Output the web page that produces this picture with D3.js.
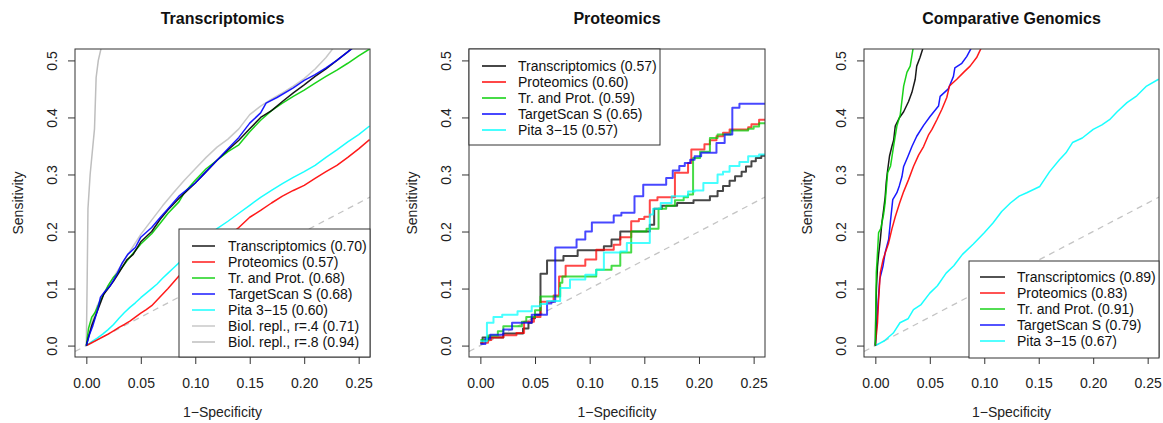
<!DOCTYPE html>
<html><head><meta charset="utf-8">
<script src="https://cdn.jsdelivr.net/npm/d3@7"></script>
<style>
body{margin:0;background:#fff;}
svg{font-family:"Liberation Sans",Arial,Helvetica,sans-serif;}
</style></head>
<body><svg id="c" width="1163" height="423"></svg>
<script>
// ---------- data ----------
const panelTitles = ["Transcriptomics","Proteomics","Comparative Genomics"];
const xTicks = [0,0.05,0.10,0.15,0.20,0.25];
const yTicks = [0,0.1,0.2,0.3,0.4,0.5];
const seriesNames = ["Transcriptomics","Proteomics","Tr. and Prot.","TargetScan S","Pita 3\u221215","Biol. repl., r=.4","Biol. repl., r=.8"];
const seriesColors = ["#000000","#ff0000","#00cd00","#0000ff","#00ffff","#c8c8c8","#bebebe"];
const auc1 = ["0.70","0.57","0.68","0.68","0.60","0.71","0.94"];
const auc2 = ["0.57","0.60","0.59","0.65","0.57"];
const auc3 = ["0.89","0.83","0.91","0.79","0.67"];

// Panel 1 (Transcriptomics)
const p1Black = [[0,0],[0.002,0.015],[0.005,0.035],[0.008,0.05],[0.012,0.07],[0.016,0.09],[0.02,0.1],[0.025,0.113],[0.03,0.128],[0.037,0.15],[0.043,0.16],[0.05,0.182],[0.06,0.2],[0.068,0.222],[0.075,0.238],[0.085,0.258],[0.1,0.285],[0.11,0.305],[0.12,0.325],[0.13,0.343],[0.14,0.36],[0.15,0.38],[0.16,0.4],[0.17,0.412],[0.18,0.428],[0.19,0.443],[0.2,0.457],[0.21,0.472],[0.22,0.485],[0.23,0.5],[0.24,0.515],[0.246,0.525]];
const p1Red = [[0,0],[0.005,0.005],[0.01,0.01],[0.015,0.015],[0.02,0.02],[0.025,0.026],[0.03,0.032],[0.035,0.037],[0.04,0.043],[0.045,0.05],[0.05,0.057],[0.055,0.063],[0.06,0.07],[0.065,0.08],[0.07,0.09],[0.075,0.1],[0.08,0.111],[0.085,0.122],[0.1,0.148],[0.12,0.177],[0.135,0.2],[0.14,0.207],[0.15,0.225],[0.16,0.237],[0.17,0.25],[0.18,0.262],[0.19,0.272],[0.2,0.281],[0.21,0.293],[0.22,0.305],[0.23,0.316],[0.24,0.33],[0.25,0.345],[0.26,0.361]];
const p1Green = [[0,0],[0.002,0.03],[0.005,0.05],[0.008,0.058],[0.012,0.075],[0.016,0.09],[0.02,0.105],[0.025,0.12],[0.03,0.13],[0.037,0.148],[0.043,0.162],[0.05,0.178],[0.06,0.196],[0.068,0.215],[0.075,0.232],[0.085,0.252],[0.09,0.268],[0.1,0.29],[0.11,0.31],[0.12,0.325],[0.13,0.34],[0.14,0.352],[0.15,0.375],[0.16,0.395],[0.17,0.412],[0.18,0.425],[0.19,0.437],[0.2,0.448],[0.21,0.46],[0.22,0.472],[0.23,0.483],[0.24,0.495],[0.25,0.508],[0.26,0.52]];
const p1Blue = [[0,0],[0.003,0.02],[0.006,0.035],[0.01,0.06],[0.013,0.085],[0.017,0.095],[0.022,0.105],[0.028,0.125],[0.033,0.145],[0.038,0.16],[0.045,0.172],[0.05,0.19],[0.06,0.207],[0.068,0.225],[0.075,0.24],[0.085,0.262],[0.1,0.285],[0.11,0.305],[0.12,0.325],[0.13,0.345],[0.14,0.365],[0.15,0.39],[0.16,0.408],[0.165,0.425],[0.175,0.435],[0.19,0.452],[0.2,0.465],[0.21,0.475],[0.22,0.487],[0.23,0.5],[0.24,0.515],[0.247,0.525]];
const p1Cyan = [[0,0],[0.005,0.007],[0.01,0.013],[0.015,0.02],[0.02,0.028],[0.025,0.037],[0.03,0.048],[0.035,0.058],[0.04,0.067],[0.045,0.075],[0.05,0.084],[0.055,0.092],[0.06,0.1],[0.065,0.108],[0.07,0.118],[0.075,0.127],[0.08,0.136],[0.085,0.145],[0.1,0.17],[0.12,0.205],[0.13,0.218],[0.14,0.232],[0.15,0.246],[0.16,0.26],[0.17,0.272],[0.18,0.284],[0.19,0.295],[0.2,0.305],[0.21,0.316],[0.22,0.33],[0.23,0.343],[0.24,0.357],[0.25,0.37],[0.26,0.385]];
const p1Rep4 = [[0,0],[0.005,0.04],[0.01,0.07],[0.02,0.105],[0.03,0.135],[0.04,0.165],[0.05,0.195],[0.06,0.22],[0.07,0.245],[0.08,0.268],[0.09,0.29],[0.1,0.31],[0.11,0.33],[0.12,0.348],[0.13,0.362],[0.14,0.38],[0.15,0.405],[0.16,0.42],[0.17,0.432],[0.18,0.443],[0.19,0.455],[0.2,0.468],[0.21,0.485],[0.22,0.505],[0.228,0.525]];
const p1Rep8 = [[0,0],[0.0008,0.12],[0.0015,0.24],[0.0035,0.3],[0.0065,0.36],[0.0075,0.38],[0.009,0.47],[0.011,0.5],[0.014,0.525]];

// Panel 2 (Proteomics) - step points: [x where step occurs, new sensitivity]
const p2Black = [[0,0.005],[0.002,0.014],[0.021,0.021],[0.039,0.03],[0.044,0.04],[0.047,0.048],[0.05,0.054],[0.055,0.126],[0.061,0.149],[0.076,0.157],[0.089,0.167],[0.113,0.174],[0.12,0.186],[0.128,0.2],[0.155,0.212],[0.159,0.24],[0.166,0.245],[0.18,0.25],[0.195,0.255],[0.21,0.262],[0.217,0.271],[0.222,0.28],[0.228,0.289],[0.233,0.297],[0.239,0.305],[0.243,0.314],[0.248,0.323],[0.252,0.329],[0.257,0.333],[0.262,0.333]];
const p2Red = [[0,0.005],[0.007,0.01],[0.01,0.014],[0.021,0.018],[0.033,0.022],[0.04,0.042],[0.049,0.05],[0.055,0.077],[0.067,0.088],[0.072,0.121],[0.078,0.14],[0.096,0.151],[0.106,0.168],[0.122,0.177],[0.128,0.19],[0.138,0.218],[0.145,0.222],[0.15,0.226],[0.155,0.255],[0.162,0.26],[0.178,0.303],[0.19,0.32],[0.193,0.344],[0.205,0.353],[0.21,0.36],[0.216,0.367],[0.222,0.373],[0.228,0.379],[0.245,0.383],[0.248,0.388],[0.255,0.396],[0.262,0.397]];
const p2Green = [[0,0.01],[0.007,0.0175],[0.016,0.025],[0.021,0.034],[0.038,0.042],[0.042,0.05],[0.05,0.062],[0.055,0.086],[0.073,0.11],[0.075,0.121],[0.106,0.133],[0.12,0.14],[0.128,0.163],[0.138,0.2],[0.152,0.205],[0.163,0.24],[0.17,0.245],[0.178,0.255],[0.186,0.26],[0.19,0.265],[0.1946,0.329],[0.201,0.34],[0.21,0.364],[0.217,0.37],[0.229,0.377],[0.245,0.38],[0.25,0.384],[0.255,0.39],[0.262,0.392]];
const p2Blue = [[0,0.003],[0.0046,0.012],[0.009,0.019],[0.021,0.028],[0.029,0.04],[0.047,0.054],[0.061,0.074],[0.065,0.077],[0.0685,0.172],[0.088,0.186],[0.096,0.2],[0.102,0.216],[0.122,0.228],[0.129,0.233],[0.141,0.262],[0.149,0.282],[0.17,0.294],[0.176,0.307],[0.182,0.315],[0.187,0.32],[0.192,0.326],[0.196,0.332],[0.202,0.338],[0.216,0.355],[0.2235,0.37],[0.2305,0.417],[0.237,0.424],[0.262,0.424]];
const p2Cyan = [[0,0.0075],[0.006,0.04],[0.012,0.05],[0.02,0.054],[0.034,0.06],[0.047,0.069],[0.055,0.073],[0.061,0.078],[0.073,0.101],[0.082,0.116],[0.096,0.124],[0.106,0.133],[0.113,0.163],[0.128,0.165],[0.134,0.18],[0.155,0.23],[0.158,0.24],[0.165,0.25],[0.175,0.262],[0.19,0.27],[0.196,0.272],[0.204,0.285],[0.217,0.3],[0.222,0.305],[0.228,0.315],[0.237,0.322],[0.245,0.332],[0.255,0.335],[0.262,0.34]];

// Panel 3 (Comparative Genomics)
const p3Black = [[0,0],[0.0005,0.06],[0.001,0.1],[0.002,0.139],[0.003,0.16],[0.0046,0.186],[0.006,0.215],[0.0076,0.238],[0.009,0.26],[0.01,0.286],[0.011,0.303],[0.013,0.332],[0.0153,0.35],[0.0168,0.36],[0.0183,0.385],[0.0223,0.4],[0.026,0.41],[0.0305,0.428],[0.0336,0.444],[0.0366,0.467],[0.038,0.49],[0.041,0.505],[0.0443,0.525]];
const p3Red = [[0,0],[0.002,0.04],[0.003,0.08],[0.0046,0.128],[0.007,0.15],[0.0092,0.163],[0.0122,0.18],[0.0153,0.205],[0.0183,0.226],[0.0223,0.25],[0.026,0.27],[0.0305,0.291],[0.035,0.314],[0.0397,0.334],[0.0443,0.349],[0.049,0.37],[0.052,0.379],[0.0565,0.396],[0.061,0.414],[0.0656,0.435],[0.068,0.455],[0.0748,0.467],[0.081,0.479],[0.087,0.49],[0.093,0.505],[0.098,0.525]];
const p3Green = [[0,0],[0.0005,0.08],[0.0009,0.128],[0.002,0.163],[0.003,0.198],[0.005,0.205],[0.0076,0.23],[0.009,0.25],[0.0113,0.303],[0.014,0.315],[0.0168,0.35],[0.0198,0.385],[0.0229,0.405],[0.026,0.455],[0.029,0.479],[0.032,0.49],[0.035,0.525]];
const p3Blue = [[0,0],[0.002,0.06],[0.004,0.116],[0.007,0.139],[0.009,0.163],[0.0122,0.186],[0.014,0.22],[0.016,0.256],[0.0198,0.268],[0.022,0.28],[0.0244,0.296],[0.026,0.314],[0.03,0.332],[0.0336,0.349],[0.038,0.367],[0.0443,0.386],[0.0504,0.402],[0.058,0.42],[0.0595,0.437],[0.067,0.45],[0.0717,0.472],[0.073,0.487],[0.0794,0.495],[0.084,0.507],[0.089,0.525]];
const p3Cyan = [[0,0],[0.008,0.008],[0.0165,0.022],[0.0226,0.04],[0.03,0.047],[0.035,0.063],[0.042,0.072],[0.05,0.092],[0.057,0.105],[0.065,0.127],[0.072,0.14],[0.08,0.16],[0.09,0.178],[0.1,0.198],[0.108,0.215],[0.116,0.235],[0.124,0.25],[0.132,0.262],[0.139,0.268],[0.151,0.279],[0.16,0.305],[0.169,0.326],[0.175,0.338],[0.181,0.356],[0.19,0.364],[0.2,0.379],[0.208,0.387],[0.215,0.396],[0.222,0.41],[0.231,0.426],[0.24,0.438],[0.249,0.455],[0.26,0.467]];

// ---------- layout ----------
const panels = [
  {left:75, right:370, series:[p1Black,p1Red,p1Green,p1Blue,p1Cyan,p1Rep4,p1Rep8], auc:auc1, step:false,
   leg:{x0:179,x1:370,y0:229,y1:357,ly:246,lx0:192,lx1:215,tx:228}, lw:1.5, op:0.9, draw:[5,6,4,1,2,0,3]},
  {left:469, right:765, series:[p2Black,p2Red,p2Green,p2Blue,p2Cyan], auc:auc2, step:true,
   leg:{x0:469,x1:660,y0:49,y1:145,ly:66,lx0:482,lx1:506,tx:518}, lw:2, op:0.72, draw:[0,1,2,3,4]},
  {left:864, right:1159, series:[p3Black,p3Red,p3Green,p3Blue,p3Cyan], auc:auc3, step:false,
   leg:{x0:969,x1:1159,y0:261,y1:358,ly:277,lx0:980,lx1:1005,tx:1017}, lw:1.5, op:0.9, draw:[4,3,1,0,2]}
];
const plotTop = 49, plotBottom = 357;
const svg = d3.select("#c");

panels.forEach((P, pi) => {
  const x = d3.scaleLinear().domain([-0.0104, 0.2604]).range([P.left, P.right]);
  const y = d3.scaleLinear().domain([-0.02, 0.52]).range([plotBottom, plotTop]);
  const g = svg.append("g");
  const cid = "clip"+pi;
  g.append("clipPath").attr("id", cid).append("rect")
    .attr("x", P.left).attr("y", plotTop).attr("width", P.right-P.left).attr("height", plotBottom-plotTop);

  // diagonal
  g.append("line").attr("clip-path", `url(#${cid})`)
    .attr("x1", x(-0.0104)).attr("y1", y(-0.0104)).attr("x2", x(0.2604)).attr("y2", y(0.2604))
    .attr("stroke", "#c4c4c4").attr("stroke-width", 1.3).attr("stroke-dasharray", "6,5");

  const line = d3.line().x(d => x(d[0])).y(d => y(d[1]))
    .curve(P.step ? d3.curveStepAfter : d3.curveLinear);
  P.draw.forEach(i => {
    g.append("path").datum(P.series[i]).attr("clip-path", `url(#${cid})`)
      .attr("d", line).attr("fill", "none")
      .attr("stroke", seriesColors[i]).attr("stroke-width", P.lw)
      .attr("stroke-opacity", i >= 5 ? 1 : P.op).attr("stroke-linejoin", "round");
  });

  // axes
  const ax = g.append("g").attr("transform", `translate(0,${plotBottom})`)
    .call(d3.axisBottom(x).tickValues(xTicks).tickFormat(d3.format(".2f")).tickSize(7).tickSizeOuter(0));
  ax.select(".domain").remove();
  ax.selectAll("line").attr("stroke", "#333");
  ax.selectAll("text").attr("y", 31).attr("dy", 0).attr("font-size", 14).attr("fill", "#222");

  const ay = g.append("g").attr("transform", `translate(${P.left},0)`)
    .call(d3.axisLeft(y).tickValues(yTicks).tickFormat(d3.format(".1f")).tickSize(7).tickSizeOuter(0));
  ay.select(".domain").remove();
  ay.selectAll("line").attr("stroke", "#333");
  ay.selectAll("text").attr("x", 0).attr("y", -18).attr("dy", 0)
    .attr("transform", "rotate(-90)").attr("text-anchor", "middle")
    .attr("font-size", 14).attr("fill", "#222");

  // box
  g.append("rect").attr("x", P.left).attr("y", plotTop).attr("width", P.right-P.left).attr("height", plotBottom-plotTop)
    .attr("fill", "none").attr("stroke", "#333").attr("stroke-width", 1);

  // titles
  const cx = (P.left + P.right)/2;
  g.append("text").attr("x", cx).attr("y", 23.5).attr("text-anchor", "middle")
    .attr("font-size", 16).attr("font-weight", "bold").attr("fill", "#111").text(panelTitles[pi]);
  g.append("text").attr("x", cx).attr("y", 417).attr("text-anchor", "middle")
    .attr("font-size", 14).attr("fill", "#222").text("1\u2212Specificity");
  g.append("text").attr("transform", `translate(${P.left-52},${(plotTop+plotBottom)/2}) rotate(-90)`)
    .attr("text-anchor", "middle").attr("font-size", 14).attr("fill", "#222").text("Sensitivity");

  // legend
  const L = P.leg;
  g.append("rect").attr("x", L.x0).attr("y", L.y0).attr("width", L.x1-L.x0).attr("height", L.y1-L.y0)
    .attr("fill", "#fff").attr("stroke", "#333").attr("stroke-width", 1);
  P.series.forEach((s, i) => {
    const yy = L.ly + i*16;
    g.append("line").attr("x1", L.lx0).attr("x2", L.lx1).attr("y1", yy).attr("y2", yy)
      .attr("stroke", seriesColors[i]).attr("stroke-width", P.lw)
      .attr("stroke-opacity", i >= 5 ? 1 : P.op);
    g.append("text").attr("x", L.tx).attr("y", yy + 5).attr("font-size", 14).attr("fill", "#111")
      .text(`${seriesNames[i]} (${P.auc[i]})`);
  });
});
</script></body></html>
